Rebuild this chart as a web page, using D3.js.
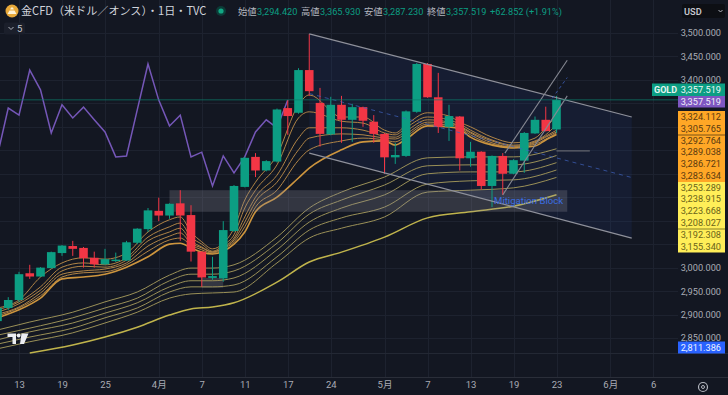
<!DOCTYPE html>
<html>
<head>
<meta charset="utf-8">
<script src="https://cdn.jsdelivr.net/npm/d3@7"></script>
<style>
  html, body { margin: 0; padding: 0; background: #131722; overflow: hidden; }
  text { font-family: Roboto, "Noto Sans CJK JP", sans-serif; }
</style>
</head>
<body>
<script>
let width = 728,
    height = 395

// bar index: 0 is 13 March, one step per trading day
const bars = d3.range(-2, 51)
const opens = [2886,2914,2931,2988,2981,2999,3031,3046,3042,3021,3007,3015,3015,3053,3082,3121,3111,3137,3112,3034,2978,2977,3078,3172,3236,3207,3226,3340,3330,3421,3351,3284,3347,3315,3342,3311,3285,3235,3238,3332,3434,3363,3300,3322,3233,3247,3174,3238,3200,3228,3286,3315,3294.42]
const highs = [2916,2937,2991,3006,3001,3034,3048,3057,3044,3034,3040,3032,3057,3084,3127,3149,3137,3165,3133,3035,3023,3099,3176,3236,3244,3229,3339,3357,3425,3498,3383,3364,3366,3349,3343,3325,3287,3266,3335,3436,3436,3415,3347,3323,3268,3248,3239,3244,3231,3289,3322,3343,3365.93]
const lows = [2882,2910,2927,2976,2980,2998,3025,3025,3000,3000,3006,3012,3014,3050,3076,3099,3104,3057,3013,2959,2974,2970,3076,3171,3193,3205,3224,3283,3328,3366,3258,3282,3266,3268,3300,3266,3200,3221,3236,3330,3362,3287,3270,3207,3215,3166,3129,3155,3199,3202,3285,3290,3287.23]
const closes = [2914,2931,2986,2981,3000,3033,3047,3040,3020,3007,3018,3017,3054,3083,3122,3111,3136,3111,3034,2979,2982,3080,3174,3234,3207,3227,3337,3323,3421,3376,3285,3347,3315,3342,3313,3285,3235,3240,3333,3434,3363,3300,3323,3233,3247,3174,3238,3200,3229,3287,3315,3291,3357.519]

const compareBars = d3.range(-2, 26)
const compareLine = [3240,3340,3325,3421,3379,3287,3347,3319,3342,3315,3289,3236,3238,3336,3434,3357,3302,3325,3236,3246,3174,3238,3202,3236,3289,3315,3298,3357]

const orangeBars = [-2,0,2,4,6,8,10,12,14,15,16,17,18,19,20,21,22,24,26,27,30,32,34,35,36,38,40,41,42,44,46,48,49,50]
const orange1 = [2914,2931,2980,3010,3021,3018,3031,3076,3102,3108,3076,3055,3040,3052,3084,3144,3182,3240,3347,3368,3321,3321,3293,3287,3304,3330,3323,3310,3300,3278,3266,3276,3298,3324.112]
const orange2 = [2910,2927,2959,3001,3010,3006,3021,3065,3087,3095,3065,3050,3035,3048,3070,3127,3165,3219,3319,3332,3312,3308,3287,3283,3298,3321,3315,3306,3293,3272,3261,3270,3283,3305.765]
const orange3 = [2905,2923,2952,2993,3003,3001,3016,3057,3076,3084,3057,3044,3033,3044,3063,3108,3150,3197,3276,3298,3298,3293,3280,3278,3291,3315,3310,3302,3289,3270,3259,3268,3280,3292.764]
const orange4 = [2901,2916,2946,2986,2993,2997,3010,3046,3067,3074,3052,3042,3033,3042,3059,3097,3140,3182,3251,3276,3285,3283,3276,3274,3285,3310,3308,3300,3287,3266,3257,3266,3278,3289.038]
const orange5 = [2897,2914,2940,2980,2989,2991,3006,3035,3059,3063,3048,3038,3031,3040,3055,3087,3129,3165,3229,3251,3270,3276,3272,3268,3280,3306,3304,3298,3283,3263,3257,3263,3274,3286.721]
const orange6 = [2893,2910,2935,2976,2980,2986,3001,3023,3050,3052,3042,3033,3029,3035,3050,3076,3119,3150,3191,3212,3251,3268,3270,3261,3274,3302,3300,3295,3278,3261,3255,3259,3272,3283.634]

const yellowBars = [-2,1,5,8,11,14,16,18,20,24,27,30,34,38,42,46,50]
const yellow1 = [2867,2884,2905,2927,2948,2984,2999,2999,3006,3065,3127,3161,3193,3234,3236,3236,3253.289]
const yellow2 = [2856,2871,2893,2914,2935,2972,2986,2986,2993,3052,3114,3144,3176,3217,3219,3219,3238.915]
const yellow3 = [2846,2863,2882,2903,2925,2959,2972,2972,2978,3038,3097,3127,3155,3200,3204,3204,3223.668]
const yellow4 = [2837,2852,2871,2893,2914,2948,2959,2959,2963,3023,3080,3106,3129,3178,3185,3187,3208.027]
const yellow5 = [2827,2842,2861,2882,2905,2935,2944,2946,2948,3010,3063,3084,3108,3161,3165,3170,3192.308]
const yellow6Bars = [1,5,8,11,14,16,18,20,24,27,30,34,38,42,46,50]
const yellow6 = [2818,2835,2852,2873,2899,2912,2916,2925,2969,3012,3033,3065,3106,3119,3131,3155.34]

const priceTicks = [3500,3450,3400,3000,2950,2900,2850]
const gridPrices = [3500,3450,3400,3350,3300,3250,3200,3150,3100,3050,3000,2950,2900,2850]
const timeBars = [0,4,8,13,17,21,25,29,34,38,42,46,50,55,59]
const timeLabels = ['13','19','25','4月','7','11','17','24','5月','7','13','19','23','6月','6']

const orangeLabels = [3324.112,3305.765,3292.764,3289.038,3286.721,3283.634]
const yellowLabels = [3253.289,3238.915,3223.668,3208.027,3192.308,3155.34]
const lastPrice = 3357.519
const bluePrice = 2811.386

const legendItems = [['始値','3,294.420'],['高値','3,365.930'],['安値','3,287.230'],['終値','3,357.519']]

// drawings, as [bar, price]
const channelTop = [[27,3498],[57,3321]]
const channelMid = [[27,3371],[57,3192]]
const channelBottom = [[27,3244],[57,3063]]
const riseTop = [[45.2,3244],[51,3442]]
const riseMid = [[49.6,3361],[51,3405]]
const riseBottom = [[45,3155],[51,3366]]
const riseExit = [[50,3249],[53.1,3249]]
const mitigationBox = [[14,3165],[51,3119]]
const smallBox = [[17,2978],[19,2957]]

const upColor = '#0c9e83', downColor = '#f23645'
const axisText = '#a9acb5'
const labelFont = 9.2

let svg = d3.select('body').append('svg')
    .attr('width', width)
    .attr('height', height)
    .style('display', 'block')

let x = d3.scaleLinear().domain([0, 50]).range([19, 556.5])
let y = d3.scaleLinear().domain([3500, 2850]).range([33, 338])
const plotRight = 678, plotBottom = 377

svg.append('rect').attr('width', width).attr('height', height).attr('fill', '#131722')

// Grid
let grid = svg.append('g').attr('stroke', '#1d222f').attr('stroke-width', 1)
grid.selectAll('.h').data(gridPrices).join('line')
    .attr('x1', 0).attr('x2', plotRight)
    .attr('y1', d => Math.round(y(d)) + 0.5).attr('y2', d => Math.round(y(d)) + 0.5)
grid.selectAll('.v').data(timeBars).join('line')
    .attr('x1', d => Math.round(x(d)) + 0.5).attr('x2', d => Math.round(x(d)) + 0.5)
    .attr('y1', 0).attr('y2', plotBottom)
grid.append('line').attr('x1', 0).attr('x2', width).attr('y1', 353.5).attr('y2', 353.5).attr('stroke', '#232834')
grid.append('line').attr('x1', 0).attr('x2', width).attr('y1', plotBottom + 0.5).attr('y2', plotBottom + 0.5).attr('stroke', '#2a2e39')

// Channel fill and boxes
const corner = (p) => [x(p[0]), y(p[1])]
svg.append('path')
    .attr('d', d3.line()([corner(channelTop[0]), corner(channelTop[1]), corner(channelBottom[1]), corner(channelBottom[0])]) + 'Z')
    .attr('fill', 'rgba(41,72,150,0.14)')

const drawBox = (box) => svg.append('rect')
    .attr('x', x(box[0][0])).attr('y', y(box[0][1]))
    .attr('width', x(box[1][0]) - x(box[0][0]))
    .attr('height', y(box[1][1]) - y(box[0][1]))
    .attr('fill', 'rgba(140,142,152,0.27)')
drawBox(smallBox)

// Compare line
const lineXY = d3.line().x(d => x(d[0])).y(d => y(d[1]))
svg.append('path')
    .attr('d', lineXY(d3.zip(compareBars, compareLine)))
    .attr('fill', 'none').attr('stroke', '#7557b8').attr('stroke-width', 1.5)

// Moving averages
const smooth = d3.line().x(d => x(d[0])).y(d => y(d[1])).curve(d3.curveMonotoneX)
const emaLine = (xs, vs, color, w) => svg.append('path')
    .attr('d', smooth(d3.zip(xs, vs)))
    .attr('fill', 'none').attr('stroke', color).attr('stroke-width', w)

let yellows = [yellow1, yellow2, yellow3, yellow4, yellow5]
yellows.forEach(s => emaLine(yellowBars, s, '#9a9057', 1))
emaLine(yellow6Bars, yellow6, '#c0b44c', 1.5)
let oranges = [orange1, orange2, orange3, orange4, orange5]
oranges.forEach(s => emaLine(orangeBars, s, '#b08446', 1))
emaLine(orangeBars, orange6, '#cd953e', 1.6)

drawBox(mitigationBox)

// Candles
const candleWidth = 8.6
let candles = svg.append('g')
bars.forEach((b, i) => {
  let up = closes[i] >= opens[i]
  let c = up ? upColor : downColor
  candles.append('line')
      .attr('x1', x(b)).attr('x2', x(b))
      .attr('y1', y(highs[i])).attr('y2', y(lows[i]))
      .attr('stroke', c).attr('stroke-width', 1)
  candles.append('rect')
      .attr('x', x(b) - candleWidth / 2)
      .attr('y', y(Math.max(opens[i], closes[i])))
      .attr('width', candleWidth)
      .attr('height', Math.max(1.5, Math.abs(y(opens[i]) - y(closes[i]))))
      .attr('fill', c)
})

// Drawings
const drawLine = (pts, color, w, dash) => svg.append('path')
    .attr('d', lineXY(pts))
    .attr('fill', 'none').attr('stroke', color).attr('stroke-width', w)
    .attr('stroke-dasharray', dash || null)

drawLine(channelTop, '#8f919b', 1.2)
drawLine(channelBottom, '#8f919b', 1.2)
drawLine(channelMid, 'rgba(62,98,190,0.7)', 1, '4 4')
drawLine(riseTop, '#868892', 1.1)
drawLine(riseBottom, '#868892', 1.1)
drawLine(riseMid, 'rgba(62,98,190,0.8)', 1, '3 3')
drawLine(riseExit, '#62646d', 1.2)

// last price line
svg.append('line')
    .attr('x1', 0).attr('x2', plotRight)
    .attr('y1', y(lastPrice)).attr('y2', y(lastPrice))
    .attr('stroke', '#0c7f6b').attr('stroke-opacity', 0.7).attr('stroke-width', 1)

svg.append('text')
    .attr('x', 494).attr('y', 203.5)
    .attr('font-size', 9.6).attr('fill', '#3b6ee0')
    .text('Mitigation Block')

// Price axis
let priceAxis = svg.append('g')
    .attr('transform', `translate(721,0)`)
    .call(d3.axisLeft(y).tickValues(priceTicks).tickSize(0).tickPadding(0).tickFormat(d3.format(',.3f')))
priceAxis.select('.domain').remove()
priceAxis.selectAll('text').attr('fill', axisText).attr('font-size', labelFont)
    .style('font-family', 'Roboto, sans-serif')

// Time axis
let timeAxis = svg.append('g')
    .attr('transform', `translate(0,${plotBottom})`)
    .call(d3.axisBottom(x).tickValues(timeBars).tickSize(0).tickPadding(4)
      .tickFormat((d, i) => timeLabels[i]))
timeAxis.select('.domain').remove()
timeAxis.selectAll('text').attr('fill', axisText).attr('font-size', 9.5)
    .style('font-family', 'Roboto, "Noto Sans CJK JP", sans-serif')

// Price labels
const priceLabel = (labelY, h, text, bg, fg) => {
  svg.append('rect').attr('x', 678).attr('y', labelY).attr('width', 47).attr('height', h).attr('fill', bg)
  svg.append('text').attr('x', 721).attr('y', labelY + h / 2 + 3.3)
      .attr('text-anchor', 'end').attr('font-size', labelFont).attr('fill', fg).text(text)
}
const fmt = d3.format(',.3f')

svg.append('rect').attr('x', 652).attr('y', 83.5).attr('width', 73).attr('height', 12.5).attr('fill', '#0c9e83')
svg.append('text').attr('x', 654).attr('y', 93).attr('font-size', 9).attr('font-weight', 700).attr('fill', '#e6f5f1').text('GOLD')
svg.append('text').attr('x', 721).attr('y', 93).attr('text-anchor', 'end').attr('font-size', labelFont).attr('fill', '#eef8f5').text(fmt(lastPrice))
priceLabel(96, 11.5, fmt(lastPrice), '#7e57c2', '#f1edf9')

svg.append('rect').attr('x', 678).attr('y', 111).attr('width', 47).attr('height', 71).attr('fill', '#ffa726')
svg.append('rect').attr('x', 678).attr('y', 182).attr('width', 47).attr('height', 70.5).attr('fill', '#ffee58')
const orangeRows = [116.5, 128.2, 140.3, 152, 163.7, 175.4]
const yellowRows = [187.7, 199, 210.7, 222.3, 234.2, 246.7]
orangeLabels.forEach((v, i) => svg.append('text')
    .attr('x', 721).attr('y', orangeRows[i] + 3.3).attr('text-anchor', 'end')
    .attr('font-size', labelFont).attr('fill', '#5a3a10').text(fmt(v)))
yellowLabels.forEach((v, i) => svg.append('text')
    .attr('x', 721).attr('y', yellowRows[i] + 3.3).attr('text-anchor', 'end')
    .attr('font-size', labelFont).attr('fill', '#6a6318').text(fmt(v)))
svg.append('line').attr('x1', 678).attr('x2', 725).attr('y1', 135).attr('y2', 135).attr('stroke', '#7a5314')
svg.append('line').attr('x1', 678).attr('x2', 725).attr('y1', 229).attr('y2', 229).attr('stroke', '#8a8225')
priceLabel(341.5, 12, fmt(bluePrice), '#2962ff', '#eef2ff')

// Header
let header = svg.append('g')
header.append('circle').attr('cx', 12).attr('cy', 11).attr('r', 6.5).attr('fill', '#e8a93a')
header.append('path').attr('d', 'M7.5 14 L9.5 10.5 L14.5 10.5 L16.5 14 Z M10.2 9.6 L11 7.5 L13 7.5 L13.8 9.6 Z').attr('fill', '#fff3d6')
header.append('text').attr('x', 21).attr('y', 15).attr('font-size', 11.1)
    .attr('fill', '#d1d4dc').style('font-family', '"Noto Sans CJK JP", sans-serif')
    .text('金CFD（米ドル／オンス）・1日・TVC')
header.append('circle').attr('cx', 221).attr('cy', 11).attr('r', 5).attr('fill', '#0c3b37')
header.append('circle').attr('cx', 221).attr('cy', 11).attr('r', 2.6).attr('fill', '#12a784')

const legendXs = [238, 301, 364, 427]
legendItems.forEach((d, i) => {
  header.append('text').attr('x', legendXs[i]).attr('y', 14.5).attr('font-size', 9.3)
      .attr('fill', '#b2b5be').style('font-family', '"Noto Sans CJK JP", sans-serif').text(d[0])
  header.append('text').attr('x', legendXs[i] + 19).attr('y', 14.5).attr('font-size', labelFont)
      .attr('fill', '#0c9e83').text(d[1])
})
header.append('text').attr('x', 490).attr('y', 14.5).attr('font-size', labelFont)
    .attr('fill', '#0c9e83').text('+62.852 (+1.91%)')

// collapse button
header.append('rect').attr('x', 4).attr('y', 22.5).attr('width', 21).attr('height', 12).attr('rx', 2).attr('fill', '#1b1f2b')
header.append('path').attr('d', 'M8.5 27 L11 29.5 L13.5 27').attr('fill', 'none').attr('stroke', '#b2b5be').attr('stroke-width', 1)
header.append('text').attr('x', 17).attr('y', 32).attr('font-size', 9.5).attr('fill', '#c5c8d0').text('5')

// USD button
header.append('rect').attr('x', 682).attr('y', 4).attr('width', 43).attr('height', 14).attr('rx', 2).attr('fill', '#0d0f14')
header.append('text').attr('x', 684).attr('y', 14.5).attr('font-size', 9.2).attr('font-weight', 600).attr('fill', '#c5c8d0').text('USD')
header.append('path').attr('d', 'M718.5 10 L720.5 12 L722.5 10').attr('fill', 'none').attr('stroke', '#b2b5be').attr('stroke-width', 1)

// logo
header.append('path').attr('d', 'M7.5 333.5 H16 V344 H12.5 V337 H7.5 Z M21.5 333.5 H28.5 L24 344 H20 Z').attr('fill', '#eceef2')
header.append('circle').attr('cx', 18.7).attr('cy', 335.5).attr('r', 1.9).attr('fill', '#eceef2')

// settings icon
header.append('circle').attr('cx', 703).attr('cy', 387).attr('r', 4.5).attr('fill', 'none').attr('stroke', '#b2b5be').attr('stroke-width', 1.2)
header.append('circle').attr('cx', 703).attr('cy', 387).attr('r', 1.5).attr('fill', 'none').attr('stroke', '#b2b5be').attr('stroke-width', 1)
</script>
</body>
</html>
